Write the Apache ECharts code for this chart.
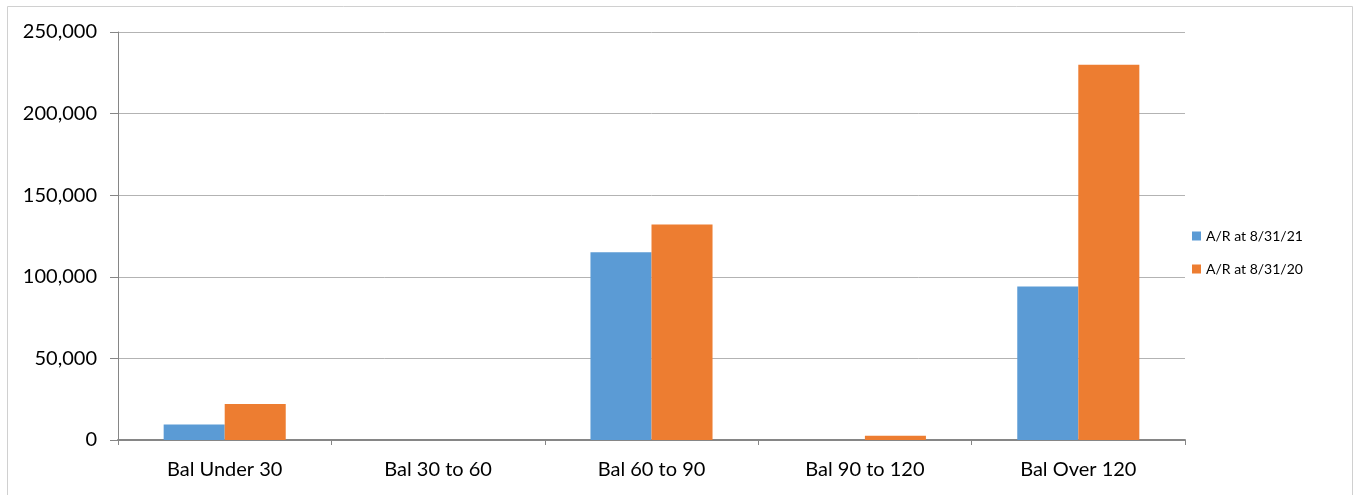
<!DOCTYPE html>
<html>
<head>
<meta charset="utf-8">
<script src="https://cdn.jsdelivr.net/npm/echarts@6/dist/echarts.min.js"></script>
<style>
  html, body { margin: 0; padding: 0; background: #fff; }
  #chart { width: 1353px; height: 495px; }
</style>
</head>
<body>
<div id="chart"></div>
<script>
// Accounts receivable balances by aging bucket
const categories = ['Bal Under 30', 'Bal 30 to 60', 'Bal 60 to 90', 'Bal 90 to 120', 'Bal Over 120'];
const seriesNames = ['A/R at 8/31/21', 'A/R at 8/31/20'];
const ar2021 = [9500, 0, 115000, 0, 94000];
const ar2020 = [22000, 0, 132000, 2600, 230000];
const yTicks = { min: 0, max: 250000, interval: 50000 };

const FONT = 'Lato, "Liberation Sans", sans-serif';
const chart = echarts.init(document.getElementById('chart'), null, { renderer: 'canvas' });

chart.setOption({
  animation: false,
  backgroundColor: '#ffffff',
  graphic: [{
    type: 'rect',
    silent: true,
    shape: { x: 7.5, y: 6.5, width: 1345, height: 520 },
    style: { fill: 'none', stroke: '#d0d0d0', lineWidth: 1 }
  }],
  grid: { left: 118, top: 32, right: 168, bottom: 55, containLabel: false },
  legend: {
    orient: 'vertical',
    left: 1187,
    top: 224,
    itemWidth: 9,
    itemHeight: 9,
    itemGap: 19,
    icon: 'rect',
    textStyle: { fontFamily: FONT, fontSize: 14, color: '#000' },
    data: seriesNames
  },
  xAxis: {
    type: 'category',
    data: categories,
    boundaryGap: true,
    axisLine: { lineStyle: { color: '#868686', width: 2 } },
    axisTick: { show: true, length: 5, lineStyle: { color: '#868686', width: 1 } },
    axisLabel: { fontFamily: FONT, fontSize: 20, color: '#000', margin: 20 }
  },
  yAxis: {
    type: 'value',
    min: yTicks.min,
    max: yTicks.max,
    interval: yTicks.interval,
    axisLine: { show: true, lineStyle: { color: '#868686', width: 1 } },
    axisTick: { show: true, length: 8, lineStyle: { color: '#868686' } },
    splitLine: { lineStyle: { color: '#b3b3b3', width: 1 } },
    axisLabel: {
      fontFamily: FONT, fontSize: 20, color: '#000', margin: 21,
      formatter: v => v.toLocaleString('en-US')
    }
  },
  series: [
    {
      name: seriesNames[0], type: 'bar', data: ar2021,
      barWidth: '28.6%', barGap: '0%',
      itemStyle: { color: '#5B9BD5' }
    },
    {
      name: seriesNames[1], type: 'bar', data: ar2020,
      barWidth: '28.6%', barGap: '0%',
      itemStyle: { color: '#ED7D31' }
    }
  ]
});
</script>
</body>
</html>
